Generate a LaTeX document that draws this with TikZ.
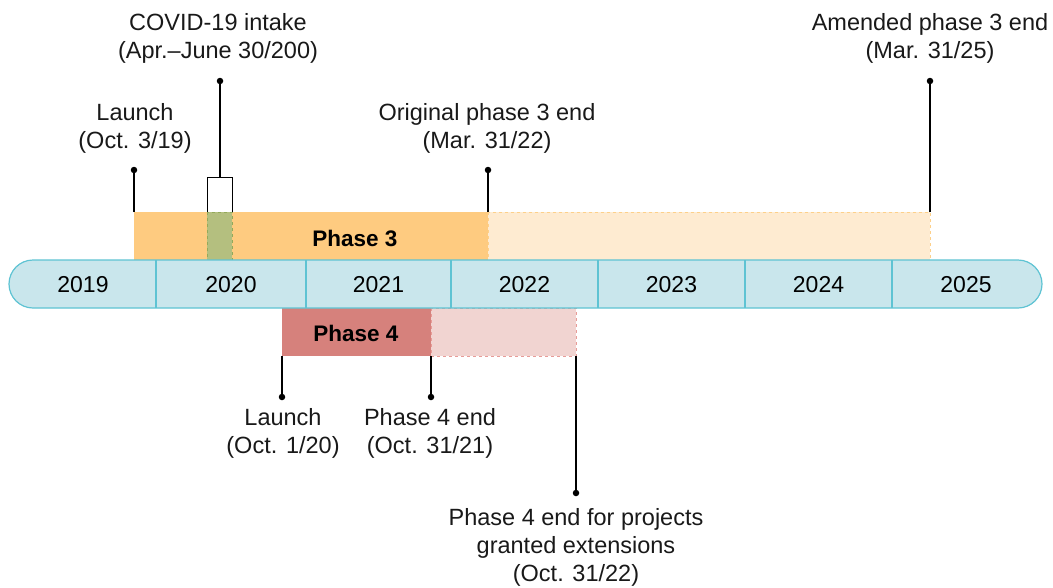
\documentclass[tikz,border=0pt]{standalone}
\usepackage{fontspec}
\setmainfont{Liberation Sans}
\definecolor{tlfill}{HTML}{C9E6EC}
\definecolor{tlline}{HTML}{5EC3D3}
\definecolor{pthree}{HTML}{FECB80}
\definecolor{pthreelight}{HTML}{FEEBD1}
\definecolor{pthreedash}{HTML}{FDD08A}
\definecolor{covid}{HTML}{B4BF7F}
\definecolor{coviddash}{HTML}{93A95A}
\definecolor{pfour}{HTML}{D6817C}
\definecolor{pfourlight}{HTML}{F1D4D1}
\definecolor{pfourdash}{HTML}{E79C98}
\tikzset{
  lbl/.style={font=\fontsize{23.5}{28}\selectfont, align=center, inner sep=0pt, text=black!90},
  yr/.style={font=\fontsize{23}{26}\selectfont, inner sep=0pt},
  phlbl/.style={font=\bfseries\fontsize{22.5}{24}\selectfont, inner sep=0pt},
  stem/.style={draw=black, line width=1.1pt},
  dotm/.style={circle, fill=black, inner sep=0pt, minimum size=6.5pt},
}
\begin{document}
\begin{tikzpicture}[x=1pt,y=-1pt]
\useasboundingbox (0,0) rectangle (1053,587);
% Phase 3 bars
\fill[pthree] (134,212) rectangle (488,260);
\draw[pthreedash, dashed, line width=0.8pt, fill=pthreelight] (488,212) rectangle (930,260);
\draw[coviddash, dashed, line width=0.8pt, fill=covid] (207,212) rectangle (232,260);
\node[phlbl] (p3) at (355,238) {Phase 3};
% Phase 4 bars
\draw[pfourdash, dashed, line width=0.8pt, fill=pfourlight] (431,308) rectangle (576,356);
\fill[pfour] (282,308) rectangle (431,356);
\node[phlbl] (p4) at (356,333) {Phase 4};
% Timeline
\draw[tlline, line width=1.2pt, fill=tlfill, rounded corners=24pt] (9,260) rectangle (1042,308);
\foreach \x in {156,306,451,598,745,892} \draw[tlline, line width=1.2pt] (\x,260) -- (\x,308);
\node[yr] (y2019) at (83,285) {2019};
\node[yr] (y2020) at (231,285) {2020};
\node[yr] (y2021) at (378.5,285) {2021};
\node[yr] (y2022) at (524.5,285) {2022};
\node[yr] (y2023) at (671.5,285) {2023};
\node[yr] (y2024) at (818.5,285) {2024};
\node[yr] (y2025) at (966,285) {2025};
% Anchors
\coordinate (l3) at (134,212);
\coordinate (o3) at (488,212);
\coordinate (a3) at (930,212);
\coordinate (cv) at (220,177);
\coordinate (l4) at (282,356);
\coordinate (e4) at (431,356);
\coordinate (x4) at (576,356);
% Dots
\node[dotm] (dl3) at (134,170) {};
\node[dotm] (do3) at (488,170) {};
\node[dotm] (da3) at (930,81) {};
\node[dotm] (dcv) at (220,81) {};
\node[dotm] (dl4) at (282,397) {};
\node[dotm] (de4) at (431,397) {};
\node[dotm] (dx4) at (576,493) {};
% Stems
\draw[stem] (l3) -- (dl3.center);
\draw[stem] (o3) -- (do3.center);
\draw[stem] (a3) -- (da3.center);
\draw[stem] (cv) -- (dcv.center);
\draw[stem] (l4) -- (dl4.center);
\draw[stem] (e4) -- (de4.center);
\draw[stem] (x4) -- (dx4.center);
\draw[black, line width=0.9pt, fill=white] (207,212) -- (207,177) -- (232,177) -- (232,212);
% Labels
\node[lbl, anchor=south] (tl3) at (135,154) {Launch\\(Oct. 3/19)};
\node[lbl, anchor=south] (tcv) at (218,64) {COVID-19 intake\\(Apr.–June 30/200)};
\node[lbl, anchor=south] (to3) at (487,154) {Original phase 3 end\\(Mar. 31/22)};
\node[lbl, anchor=south] (ta3) at (930,64) {Amended phase 3 end\\(Mar. 31/25)};
\node[lbl, anchor=north] (tl4) at (283,408) {Launch\\(Oct. 1/20)};
\node[lbl, anchor=north] (te4) at (430,408) {Phase 4 end\\(Oct. 31/21)};
\node[lbl, anchor=north] (tx4) at (576,508) {Phase 4 end for projects\\granted extensions\\(Oct. 31/22)};
\end{tikzpicture}
\end{document}
